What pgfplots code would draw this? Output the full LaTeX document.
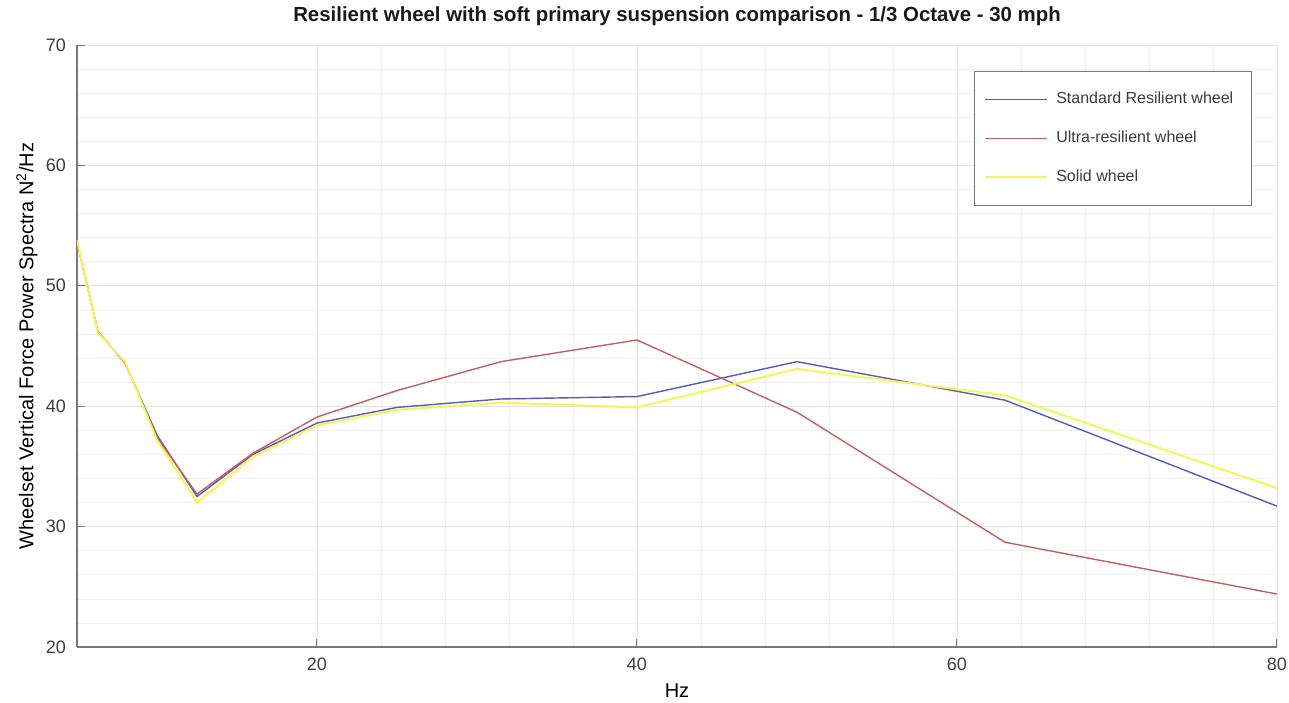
\documentclass[border=0pt]{standalone}
\usepackage{pgfplots}
\pgfplotsset{compat=1.18}
\usepackage{fontspec}
\setmainfont{Liberation Sans}
\definecolor{cblue}{RGB}{90,90,185}
\definecolor{cred}{RGB}{195,95,95}
\definecolor{cyel}{RGB}{245,245,90}
\definecolor{txt}{RGB}{60,60,60}
\definecolor{axc}{RGB}{120,120,120}
\begin{document}
\begin{tikzpicture}
\path[use as bounding box] (-38.5pt,-27.5pt) rectangle (606pt,323.5pt);
\begin{axis}[
  at={(0,0)}, anchor=south west,
  scale only axis, width=600pt, height=301pt,
  xmin=5, xmax=80, ymin=20, ymax=70,
  xtick={20,40,60,80}, ytick={20,30,40,50,60,70},
  minor x tick num=4, minor y tick num=4,
  grid=both,
  major grid style={draw=black!11, line width=0.4pt},
  minor grid style={draw=black!6, line width=0.3pt},
  axis x line*=bottom, axis y line*=left,
  axis line style={draw=axc, line width=0.6pt, -},
  tick style={draw=axc, line width=0.5pt},
  minor tick length=0pt, major tick length=4pt,
  tick align=inside,
  /pgf/number format/assume math mode=true,
  tick label style={font=\fontsize{9}{10}\selectfont, text=txt},
  xticklabel style={yshift=-2pt},
  yticklabel style={xshift=-2pt},
  label style={font=\fontsize{9.8}{11}\selectfont, text=txt},
  xlabel={Hz},
  every axis x label/.style={at={(axis description cs:0.5,-0.072)}, anchor=center},
  ylabel={Wheelset Vertical Force Power Spectra N\textsuperscript{2}/Hz},
  every axis y label/.style={at={(axis description cs:-0.0417,0.5)}, rotate=90, anchor=center},
  title={\textbf{Resilient wheel with soft primary suspension comparison - 1/3 Octave - 30 mph}},
  every axis title/.style={at={(axis description cs:0.5,1)}, anchor=center, yshift=14.5pt, font=\fontsize{10.2}{12}\selectfont, text=black!90},
  legend style={at={(0.979,0.957)}, anchor=north east, draw=axc, line width=0.5pt,
    font=\fontsize{8}{9.6}\selectfont, text=txt, row sep=8pt,
    inner xsep=5pt, inner ysep=8.5pt, cells={anchor=west},
    nodes={inner xsep=4pt}},
  legend image code/.code={\draw[#1] (0cm,0cm) -- (1.09cm,0cm);},
  every axis plot/.append style={line width=0.7pt},
]
\addplot[cblue] coordinates {(5,53.7)(6.3,46.2)(8,43.6)(10,37.6)(12.5,32.5)(16,36.0)(20,38.6)(25,39.9)(31.5,40.6)(40,40.8)(50,43.7)(63,40.5)(80,31.7)};
\addlegendentry{Standard Resilient wheel}
\addplot[cred] coordinates {(5,53.7)(6.3,46.2)(8,43.6)(10,37.4)(12.5,32.7)(16,36.1)(20,39.1)(25,41.3)(31.5,43.7)(40,45.5)(50,39.5)(63,28.7)(80,24.4)};
\addlegendentry{Ultra-resilient wheel}
\addplot[cyel, line width=1pt] coordinates {(5,53.8)(6.3,46.1)(8,43.7)(10,37.2)(12.5,32.0)(16,35.8)(20,38.4)(25,39.7)(31.5,40.3)(40,39.9)(50,43.1)(63,40.9)(80,33.2)};
\addlegendentry{Solid wheel}
\end{axis}
\end{tikzpicture}
\end{document}
